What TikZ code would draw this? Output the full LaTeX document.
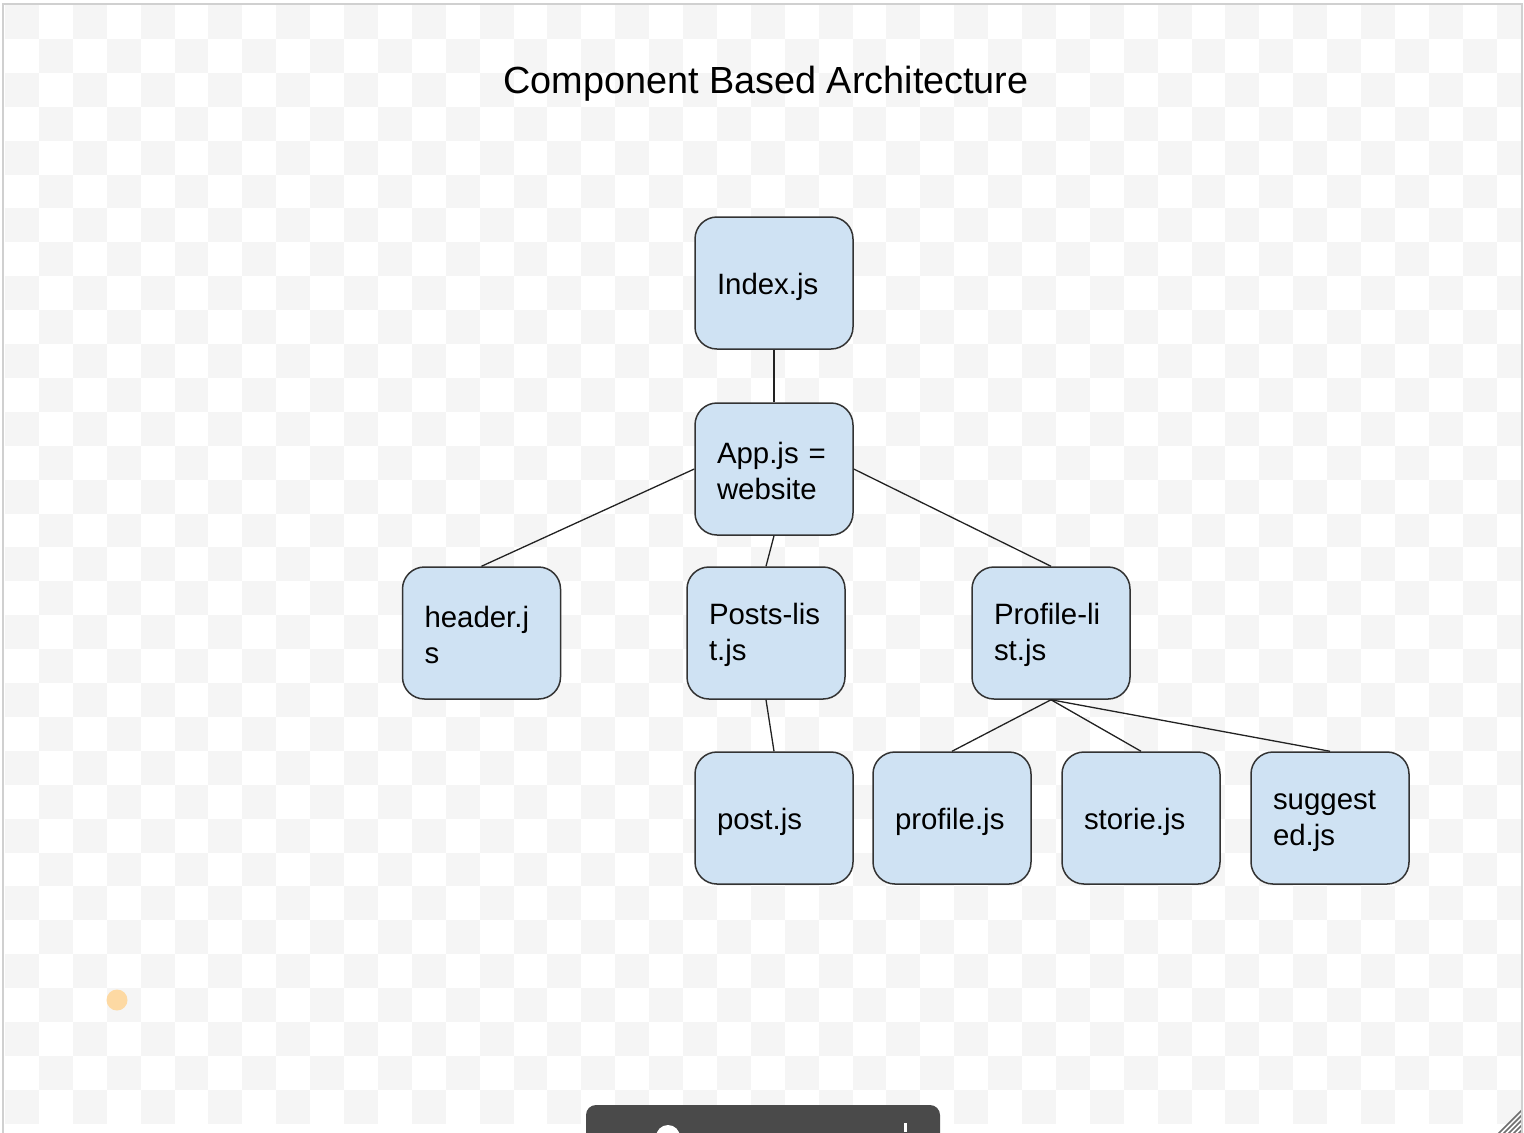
\documentclass[tikz,border=0pt]{standalone}
\usepackage{fontspec}
\setmainfont{Liberation Sans}
\definecolor{checkgray}{HTML}{F5F5F5}
\definecolor{boxfill}{HTML}{CFE2F3}
\definecolor{boxline}{HTML}{333333}
\definecolor{edgecol}{HTML}{222222}
\definecolor{framecol}{HTML}{D0D0D0}
\definecolor{barcol}{HTML}{4A4A4A}
\definecolor{dotcol}{HTML}{FDD9A3}
\tikzset{
  comp/.style={draw=boxline, fill=boxfill, line width=0.75pt, rounded corners=11pt,
    minimum width=79pt, minimum height=66pt, text width=57pt, inner xsep=11pt,
    align=left, font=\fontsize{14.7}{17.6}\selectfont},
  oneline/.style={comp, text height=14.8pt},
  twoline/.style={comp, text height=12.6pt},
  link/.style={draw=edgecol, line width=0.65pt},
}
\begin{document}
\begin{tikzpicture}[x=0.5pt,y=-0.5pt]
\useasboundingbox (0,0) rectangle (1524,1132);
\fill[white] (0,0) rectangle (1524,1132);
\begin{scope}
\clip (4,4) rectangle (1521,1132);
\foreach \i in {0,...,44} {
  \foreach \j in {0,...,32} {
    \pgfmathtruncatemacro\s{mod(\i+\j,2)}
    \ifnum\s=0
      \fill[checkgray] ({5+\i*33.9},{5+\j*33.9}) rectangle ++(33.9,33.9);
    \fi
  }
}
\fill[barcol, rounded corners=5pt] (586,1160) -- (586,1105) -- (940,1105) -- (940,1160) -- cycle;
\fill[white] (668,1137) circle (12);
\fill[white] (904,1123) rectangle (907,1132);
\foreach \k in {0,1,2,3,4} {
  \draw[barcol!80, line width=0.8pt] ({1498+\k*5},1134) -- (1522,{1110+\k*5});
}
\end{scope}
\draw[framecol, line width=1pt] (3,1140) -- (3,3.5) -- (1522,3.5) -- (1522,1140);
\fill[dotcol] (117,1000) circle (10.5);

\node[anchor=base, font=\fontsize{18.9}{22}\selectfont] (title) at (766,93) {Component Based Architecture};

\node[oneline] (index) at (774,283) {Index.js};
\node[twoline] (app) at (774,469) {App.js =\\website};
\node[twoline] (header) at (481.5,633) {header.j\\s};
\node[twoline] (posts) at (766,633) {Posts-lis\\t.js};
\node[twoline] (profilelist) at (1051,633) {Profile-li\\st.js};
\node[oneline] (post) at (774,818) {post.js};
\node[oneline] (profile) at (952,818) {profile.js};
\node[oneline] (storie) at (1141,818) {storie.js};
\node[twoline] (suggested) at (1330,818) {suggest\\ed.js};

\draw[link] (index.south) -- (app.north);
\draw[link] (app.west) -- (header.north);
\draw[link] (app.south) -- (posts.north);
\draw[link] (app.east) -- (profilelist.north);
\draw[link] (posts.south) -- (post.north);
\draw[link] (profilelist.south) -- (profile.north);
\draw[link] (profilelist.south) -- (storie.north);
\draw[link] (profilelist.south) -- (suggested.north);
\end{tikzpicture}
\end{document}
